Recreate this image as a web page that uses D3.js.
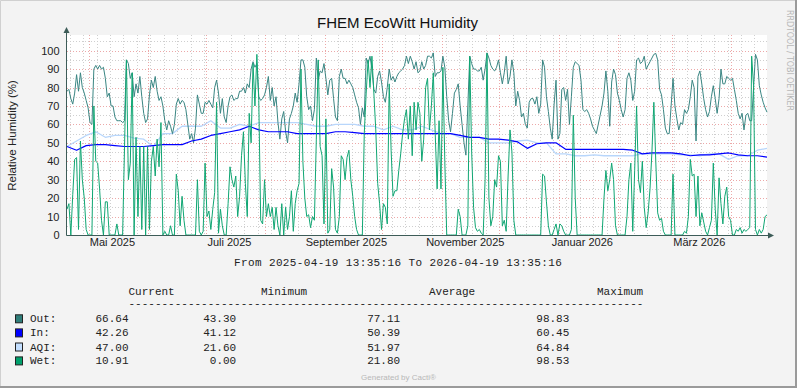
<!DOCTYPE html>
<html><head><meta charset="utf-8">
<script src="https://cdn.jsdelivr.net/npm/d3@7/dist/d3.min.js"></script>
<style>html,body{margin:0;padding:0;background:#f3f3f3}svg{display:block}</style>
</head><body>
<svg id="chart" width="797" height="388"></svg>
<script>
// ---------------- data ----------------
const startTime = "2025-04-19T13:35:16Z";
const endTime   = "2026-04-19T13:35:16Z";
const dailyStepHours = 24;   // Out / Wet sampled once a day
const slowStepHours = 120;   // In / AQI sampled every 5 days

const outValues = [
78,79,74,71,77,87,78,88,80,77,73,69,61,60,90,92,90,92,90,91,85,75,77,70,70,64,62,62,62,61,62,
95,93,85,88,75,82,77,86,75,66,61,63,76,84,80,86,78,73,75,70,62,57,62,59,55,60,71,74,71,73,72,
68,60,52,55,50,58,76,71,66,66,72,71,73,71,69,80,84,77,66,74,64,61,70,75,76,73,74,74,78,78,80,77,82,80,90,94,91,93,75,73,74,76,80,86,73,80,70,75,61,52,63,67,56,50,63,66,70,77,72,82,95,
95,91,75,68,70,62,68,96,84,89,88,93,85,76,84,85,74,64,62,86,90,85,85,82,84,82,80,76,72,69,60,69,64,96,93,97,90,79,77,86,89,83,75,72,80,90,84,86,83,86,88,89,90,92,97,93,97,94,90,94,88,89,
94,90,92,97,97,96,98.8,86,88,88,89,97,91,75,62,56,66,77,79,82,70,60,50,43.3,70,97,93,90,90,89,89,91,84,90,98.8,96,92,90,89,91,95,88,82,88,97,82,86,95,88,70,78,73,64,66,60,58,72,74,74,71,75,
66,71,95,91,75,67,58,52,71,84,52,55,79,80,73,79,60,75,91,94,93,92,84,68,67,68,66,63,59,57,55,60,65,70,77,89,78,59,83,90,87,77,73,68,64,68,85,88,84,73,78,95,96,93,94,97,90,92,94,96,
98,98.5,95,79,76,68,58,55,55,70,85,70,63,57,61,60,68,66,68,75,84,80,51,86,89,82,74,68,64,67,75,81,74,66,74,90,82,82,86,85,84,85,79,73,66,63,66,57,65,66,62,62,80,98,95,81,76,72,69,66.64
];

const wetValues = [
14,17,0,22,41,42,3,51,30,20,3,0,0,0,70,40,39,25,8,0,18,18,0,0,0,0,6,0,0,0,
48,95,30,39,88,0,53,10,48,3,48,0,48,3,40,48,32,52,37,61,0,2,0,0,5,0,0,33,24,5,21,8,
0,0,0,0,0,0,30,2,0,2,39,10,13,3,14,23,72,1,14,5,0,0,17,37,30,26,32,10,21,43,
56,28,10,66,50,93,70,98,73,8,6,30,10,17,10,15,3,15,5,0,17,0,15,3,10,24,2,17,24,28,90,
40,20,10,11,4,10,8,52,95,48,43,6,63,1,3,36,26,3,1,10,43,41,30,42,46,30,21,10,3,0,0,0,
55,77,95,80,97,77,57,28,17,3,17,15,6,82,46,21,24,24,35,44,55,63,68,52,70,43,72,57,72,66,
40,52,80,85,57,70,88,55,25,62,25,91,40,0,0,0,0,0,0,14,10,0,0,0,5,97,45,15,4,2,3,1,0,30,98.5,20,5,10,30,26,43,40,5,8,2,32,57,45,8,
0,0,0,0,0,0,0,0,0,0,0,0,
0,0,33,32,18,5,0,0,3,6,0,6,5,2,0,0,0,3,65,20,0,0,0,0,0,0,0,0,0,0,0,0,0,0,
20,35,24,30,39,30,5,0,0,0,0,0,10,30,39,2,35,70,30,23,40,15,4,12,25,45,
72,40,12,8,9,2,0,0,0,0,33,0,0,0,0,0,2,1,10,41,32,33,10,32,5,12,7,2,0,4,8,39,14,0,31,17,6,21,26,10,
8,0,0,3,2,4,1,3,2,3,4,97,81,3,0,3,1,3,10,10.91
];

const inValues = [
48,46,48.5,49,49,48.5,48,48,48,48.5,49,49,49,51,52,54,55,56,57,59,57,56,56,56,55,55,55,55,56,56,
55.5,55,55,55,55,55,55,55,55,55,55,54,53,53,52,52,51.5,50.5,47,49.5,50,50,46.5,46.5,46.5,46.5,46.5,46.5,46.5,46,
44,44.5,44.5,44.5,44,43,43.5,43.5,44,44.5,43.5,43,43,42.26
];

const aqiValues = [
48,51,54,56,53,54,54,52.5,52,48,55,55,59,59,59,62,58,58,60,59,61,61,61,61,61,60,59,59,60,60,
60,59,59,57,59,57,57,59,57,55,55,53,53,53,50,50,50,51,51.5,50,50,44,44,43,43,43.5,43,43,43,43,
44,44,44,44,43.5,43.5,43,44,44,41,43,43,46,47
];

const yTickValues = [0,10,20,30,40,50,60,70,80,90,100];
const xTickDates  = ["2025-05-13","2025-07-13","2025-09-12","2025-11-13","2026-01-13","2026-03-15"];
const xTickLabels = ["Mai 2025","Juli 2025","September 2025","November 2025","Januar 2026","März 2026"];

const seriesNames = ["Out:","In:","AQI:","Wet:"];
const seriesColors = ["#2f7d79","#0000ff","#c4dfff","#00a06c"];
const lineColors   = ["#3a8683","#0000ff","#b8d6fb","#10a673"];
const legendCurrent = ["66.64","42.26","47.00","10.91"];
const legendMinimum = ["43.30","41.12","21.60","0.00"];
const legendAverage = ["77.11","50.39","51.97","21.80"];
const legendMaximum = ["98.83","60.45","64.84","98.53"];
const legendHeaders = ["Current","Minimum","Average","Maximum"];

const chartTitle = "FHEM EcoWitt Humidity";
const yTitle = "Relative Humidity (%)";
const rangeText = "From 2025-04-19 13:35:16 To 2026-04-19 13:35:16";

// ---------------- drawing ----------------
const W = 797, H = 388;
const svg = d3.select("#chart");
const t0 = new Date(startTime), t1 = new Date(endTime);
const x = d3.scaleUtc().domain([t0, t1]).range([67, 767]);
const y = d3.scaleLinear().domain([0, 108.5]).range([235, 35]);
const HOUR = 3600 * 1000;
const timeAt = (i, stepH) => new Date(t0.getTime() + i * stepH * HOUR);

const sans = "'Liberation Sans', Arial, sans-serif";
const mono = "'Liberation Mono', 'Courier New', monospace";

// canvas + border
svg.append("rect").attr("width", W).attr("height", H).attr("fill", "#f3f3f3");
svg.append("path").attr("d", `M0.5,${H}V0.5H${W}`).attr("stroke", "#d0d0d0").attr("fill", "none");
svg.append("path").attr("d", `M0,${H-1}H${W-1}V0`).attr("stroke", "#9a9a9a").attr("stroke-width", 2).attr("fill", "none");

// plot background
svg.append("rect").attr("x", x.range()[0]).attr("y", y.range()[1])
  .attr("width", x.range()[1] - x.range()[0]).attr("height", y.range()[0] - y.range()[1])
  .attr("fill", "#ffffff");

const grid = svg.append("g").attr("fill", "none").attr("stroke-dasharray", "1,2");
// minor horizontal (every 5)
d3.range(5, 108, 5).filter(v => v % 10 !== 0).forEach(v => {
  grid.append("line").attr("x1", 67).attr("x2", 767).attr("y1", Math.round(y(v)) + 0.5).attr("y2", Math.round(y(v)) + 0.5)
    .attr("stroke", "#cfcfcf");
});
// minor vertical (weekly, Mondays)
d3.utcMonday.range(t0, t1).forEach(d => {
  const px = Math.round(x(d)) + 0.5;
  grid.append("line").attr("x1", px).attr("x2", px).attr("y1", 35).attr("y2", 235).attr("stroke", "#cfcfcf");
});
// major horizontal
yTickValues.filter(v => v > 0).forEach(v => {
  grid.append("line").attr("x1", 67).attr("x2", 767).attr("y1", Math.round(y(v)) + 0.5).attr("y2", Math.round(y(v)) + 0.5)
    .attr("stroke", "#eca8a8");
});
// major vertical (month starts)
d3.utcMonth.range(t0, t1).forEach(d => {
  const px = Math.round(x(d)) + 0.5;
  grid.append("line").attr("x1", px).attr("x2", px).attr("y1", 35).attr("y2", 235).attr("stroke", "#eca8a8");
});

// data lines
const mkLine = stepH => d3.line().x((d, i) => x(timeAt(i, stepH))).y(d => y(d));
const plot = svg.append("g").attr("fill", "none").attr("stroke-linejoin", "round");
plot.append("path").datum(aqiValues).attr("d", mkLine(slowStepHours)).attr("stroke", lineColors[2]).attr("stroke-width", 1.3);
plot.append("path").datum(outValues).attr("d", mkLine(dailyStepHours)).attr("stroke", lineColors[0]).attr("stroke-width", 1);
plot.append("path").datum(inValues).attr("d", mkLine(slowStepHours)).attr("stroke", lineColors[1]).attr("stroke-width", 1.2);
plot.append("path").datum(wetValues).attr("d", mkLine(dailyStepHours)).attr("stroke", lineColors[3]).attr("stroke-width", 1);

// axes lines with arrows
const axisColor = "#3d5c58";
svg.append("line").attr("x1", 66.5).attr("x2", 66.5).attr("y1", 235.5).attr("y2", 31).attr("stroke", axisColor);
svg.append("line").attr("x1", 66.5).attr("x2", 770).attr("y1", 235.5).attr("y2", 235.5).attr("stroke", axisColor);
svg.append("path").attr("d", "M63.5,33 L66.5,27 L69.5,33 Z").attr("fill", axisColor);
svg.append("path").attr("d", "M768,232.5 L774,235.5 L768,238.5 Z").attr("fill", axisColor);

// y axis labels
const yAxis = d3.axisLeft(y).tickValues(yTickValues).tickSize(0).tickPadding(7.5);
const yg = svg.append("g").attr("transform", "translate(67,0)").call(yAxis);
yg.select(".domain").remove();
yg.selectAll("text").attr("font-family", sans).attr("font-size", 11).attr("fill", "#222");

// x axis labels
const xAxis = d3.axisBottom(x).tickValues(xTickDates.map(s => new Date(s + "T00:00:00Z")))
  .tickFormat((d, i) => xTickLabels[i]).tickSize(0).tickPadding(3);
const xg = svg.append("g").attr("transform", "translate(0,235)").call(xAxis);
xg.select(".domain").remove();
xg.selectAll("text").attr("font-family", sans).attr("font-size", 11).attr("fill", "#222");

// titles
svg.append("text").attr("x", 397.5).attr("y", 28.3).attr("text-anchor", "middle")
  .attr("font-family", sans).attr("font-size", 15).attr("fill", "#111").text(chartTitle);
svg.append("text").attr("transform", "translate(15.5,135.5) rotate(-90)").attr("text-anchor", "middle")
  .attr("font-family", sans).attr("font-size", 11.5).attr("fill", "#222").text(yTitle);
svg.append("text").attr("transform", "translate(786.5,10) rotate(90)").attr("text-anchor", "start")
  .attr("font-family", "'DejaVu Sans', sans-serif").attr("font-size", 8).attr("fill", "#b8b8b8")
  .attr("textLength", 101).attr("lengthAdjust", "spacing").text("RRDTOOL / TOBI OETIKER");

// range text
svg.append("text").attr("x", 234).attr("y", 266).attr("font-family", mono).attr("font-size", 11)
  .attr("letter-spacing", 0.38).attr("fill", "#222").text(rangeText);

// legend header
const headerX = [128.5, 261, 429, 597];
legendHeaders.forEach((h, i) => {
  svg.append("text").attr("x", headerX[i]).attr("y", 294.5).attr("font-family", mono).attr("font-size", 11)
    .attr("fill", "#222").text(h);
});
svg.append("text").attr("x", 128.5).attr("y", 306.5).attr("font-family", mono).attr("font-size", 11)
  .attr("fill", "#222").text("-".repeat(78));

// legend rows
const rowY = [322.3, 336.4, 350.5, 364.4];
seriesNames.forEach((n, i) => {
  svg.append("rect").attr("x", 15.5).attr("y", rowY[i] - 7.5).attr("width", 7).attr("height", 8)
    .attr("fill", seriesColors[i]).attr("stroke", "#222").attr("stroke-width", 1);
  svg.append("text").attr("x", 30).attr("y", rowY[i]).attr("font-family", mono).attr("font-size", 11)
    .attr("fill", "#222").text(n);
  [[legendCurrent, 128.5], [legendMinimum, 236.2], [legendAverage, 400.2], [legendMaximum, 569.3]].forEach(([arr, ex]) => {
    svg.append("text").attr("x", ex).attr("y", rowY[i]).attr("text-anchor", "end").attr("font-family", mono)
      .attr("font-size", 11).attr("fill", "#222").text(arr[i]);
  });
});

// footer
svg.append("text").attr("x", 398.5).attr("y", 380).attr("text-anchor", "middle").attr("font-family", sans)
  .attr("font-size", 8).attr("fill", "#b8b8b8").text("Generated by Cacti®");
</script>
</body></html>
